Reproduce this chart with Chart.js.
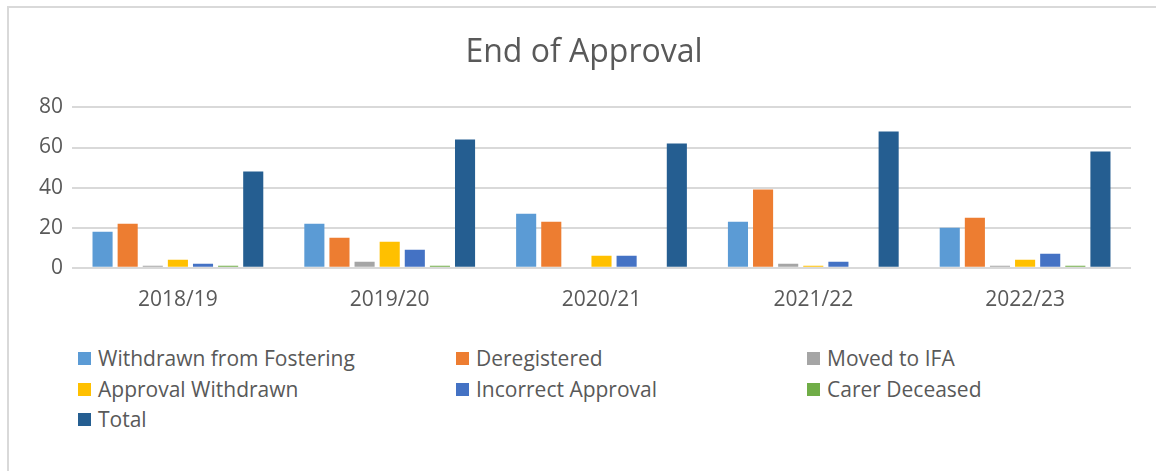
<!DOCTYPE html>
<html>
<head>
<meta charset="utf-8">
<script src="https://cdn.jsdelivr.net/npm/chart.js@4"></script>
<style>
  html, body { margin: 0; padding: 0; background: #fff; }
  body { width: 1156px; height: 471px; position: relative; overflow: hidden; font-family: "Open Sans", sans-serif; }
  #frame { position: absolute; left: 7px; top: 6px; width: 1200px; height: 500px; border-left: 2px solid #d9d9d9; border-top: 2px solid #d9d9d9; }
  #wrap { position: absolute; left: 0; top: 0; width: 1156px; height: 325px; }
  #legend { position: absolute; left: 0; top: 0; }
  .item { position: absolute; display: flex; align-items: center; font-size: 21px; color: #595959; white-space: nowrap; }
  .box { width: 13px; height: 13px; margin-right: 7px; }
</style>
</head>
<body>
<div id="frame"></div>
<div id="wrap"><canvas id="chart"></canvas></div>
<div id="legend"></div>
<script>
document.addEventListener('DOMContentLoaded', function() {

    // --- DATA ---
    const years = ['2018/19', '2019/20', '2020/21', '2021/22', '2022/23'];
    const withdrawnFromFostering = [18, 22, 27, 23, 20];
    const deregistered = [22, 15, 23, 39, 25];
    const movedToIFA = [1, 3, 0, 2, 1];
    const approvalWithdrawn = [4, 13, 6, 1, 4];
    const incorrectApproval = [2, 9, 6, 3, 7];
    const carerDeceased = [1, 1, 0, 0, 1];
    const total = [48, 64, 62, 68, 58];
    const yTicks = [0, 20, 40, 60, 80];

    const series = [
        { label: 'Withdrawn from Fostering', data: withdrawnFromFostering, color: '#5B9BD5' },
        { label: 'Deregistered', data: deregistered, color: '#ED7D31' },
        { label: 'Moved to IFA', data: movedToIFA, color: '#A5A5A5' },
        { label: 'Approval Withdrawn', data: approvalWithdrawn, color: '#FFC000' },
        { label: 'Incorrect Approval', data: incorrectApproval, color: '#4472C4' },
        { label: 'Carer Deceased', data: carerDeceased, color: '#70AD47' },
        { label: 'Total', data: total, color: '#255E91' }
    ];

    const ctx = document.getElementById('chart').getContext('2d');
    new Chart(ctx, {
        type: 'bar',
        data: {
            labels: years,
            datasets: series.map(s => ({
                label: s.label,
                data: s.data,
                backgroundColor: s.color,
                categoryPercentage: 0.83,
                barPercentage: 0.8
            }))
        },
        options: {
            responsive: true,
            maintainAspectRatio: false,
            animation: false,
            layout: { padding: { left: 37, right: 25, top: 0, bottom: 0 } },
            plugins: {
                legend: { display: false },
                tooltip: { enabled: false },
                title: {
                    display: true,
                    text: 'End of Approval',
                    color: '#595959',
                    font: { family: 'Open Sans', size: 32, weight: 'normal' },
                    padding: { top: 34, bottom: 35 }
                }
            },
            scales: {
                x: {
                    grid: { display: false },
                    border: { display: false },
                    ticks: { color: '#595959', font: { family: 'Open Sans', size: 21 }, padding: 12 }
                },
                y: {
                    min: 0,
                    max: 80,
                    afterBuildTicks: s => { s.ticks = yTicks.map(v => ({ value: v })); },
                    afterFit: s => { s.width = 35; },
                    grid: { color: '#d9d9d9', lineWidth: 2, drawTicks: false },
                    border: { display: false },
                    ticks: { color: '#595959', font: { family: 'Open Sans', size: 21 }, padding: 9 }
                }
            }
        }
    });

    // --- LEGEND ---
    const cols = [78, 456, 807];
    const rows = [359, 390, 420];
    document.getElementById('legend').innerHTML = series.map((s, i) => `
        <div class="item" style="left:${cols[i % 3]}px; top:${rows[Math.floor(i / 3)] - 15}px;">
            <div class="box" style="background:${s.color}"></div>${s.label}
        </div>
    `).join('');
});
</script>
</body>
</html>
